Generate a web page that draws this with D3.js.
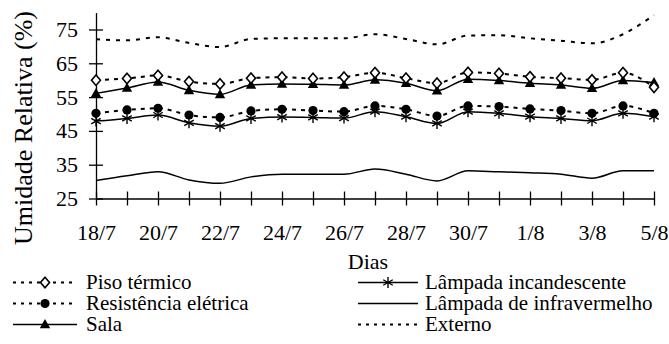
<!DOCTYPE html>
<html>
<head>
<meta charset="utf-8">
<script src="https://cdn.jsdelivr.net/npm/d3@7"></script>
<style>
  html, body { margin: 0; padding: 0; background: #fff; }
  svg { display: block; }
</style>
</head>
<body>
<svg id="chart" width="669" height="344"></svg>
<script>
// Days of observation (18 July to 5 August)
const days = ["18/7","19/7","20/7","21/7","22/7","23/7","24/7","25/7","26/7","27/7",
              "28/7","29/7","30/7","31/7","1/8","2/8","3/8","4/8","5/8"];
const labelledDays = ["18/7","20/7","22/7","24/7","26/7","28/7","30/7","1/8","3/8","5/8"];
const yTicks = [25, 35, 45, 55, 65, 75];

// Relative humidity (%) per treatment
const pisoTermico      = [60.0, 60.5, 61.4, 59.6, 58.9, 60.6, 60.9, 60.5, 60.9, 62.2, 60.6, 59.1, 62.3, 62.0, 61.0, 60.6, 60.1, 62.2, 57.9];
const resistencia      = [50.2, 51.2, 51.7, 49.7, 49.0, 50.9, 51.4, 51.0, 50.7, 52.4, 51.4, 49.4, 52.4, 52.2, 51.5, 51.0, 50.2, 52.4, 50.2];
const sala             = [56.1, 57.7, 59.5, 57.0, 55.8, 58.6, 58.9, 58.8, 58.6, 60.1, 59.1, 56.9, 60.3, 59.9, 59.1, 58.6, 57.6, 59.9, 59.3];
const incandescente    = [47.9, 48.7, 49.7, 47.4, 46.4, 48.7, 49.1, 49.0, 48.8, 50.7, 49.2, 47.2, 50.7, 50.2, 49.2, 48.7, 48.0, 50.2, 49.2];
const infravermelho    = [30.3, 31.7, 32.9, 30.5, 29.5, 31.4, 32.2, 32.2, 32.2, 33.7, 32.2, 30.2, 33.2, 32.9, 32.6, 32.2, 31.0, 33.2, 33.2];
const externo          = [72.1, 71.8, 72.7, 71.0, 69.8, 72.2, 72.4, 72.4, 72.4, 73.6, 72.2, 70.6, 73.2, 73.3, 72.4, 71.7, 70.9, 73.6, 79.3];

const series = [
  { name: "Externo",                  values: externo,       dash: "4,6", marker: null },
  { name: "Lâmpada de infravermelho", values: infravermelho, dash: null,  marker: null },
  { name: "Lâmpada incandescente",    values: incandescente, dash: null,  marker: "asterisk" },
  { name: "Resistência elétrica",     values: resistencia,   dash: "4,5", marker: "circle" },
  { name: "Piso térmico",             values: pisoTermico,   dash: "4,5", marker: "diamond" },
  { name: "Sala",                     values: sala,          dash: null,  marker: "triangle" }
];

const FONT = '"Liberation Serif"';
const svg = d3.select("#chart");

const x = d3.scalePoint().domain(days).range([96, 654]);
const y = d3.scaleLinear().domain([25, 80]).range([198.5, 12.6]);

// Y axis with ticks crossing the axis line
const yAxis = svg.append("g")
  .attr("transform", "translate(96,0)")
  .call(d3.axisLeft(y).tickValues(yTicks).tickSize(7).tickSizeOuter(0).tickPadding(11));
yAxis.selectAll(".tick line").attr("x1", 7);

// X axis: one tick per day, labels every two days
const xAxis = svg.append("g")
  .attr("transform", `translate(0,${y(25)})`)
  .call(d3.axisBottom(x).tickSize(7).tickSizeOuter(0).tickPadding(19)
    .tickFormat(d => labelledDays.includes(d) ? d : ""));
xAxis.selectAll(".tick line").attr("y1", -7);
xAxis.selectAll(".tick text").filter(d => !labelledDays.includes(d)).remove();

[yAxis, xAxis].forEach(g => {
  g.selectAll("text").style("font-family", FONT).style("font-size", "22px").attr("fill", "#000");
  g.selectAll("path, line").attr("stroke", "#000").attr("stroke-width", 1.3);
});

// Axis titles
svg.append("text")
  .attr("transform", "translate(32,128) rotate(-90)")
  .attr("text-anchor", "middle")
  .style("font-family", FONT)
  .style("font-size", "26px")
  .text("Umidade Relativa (%)");

svg.append("text")
  .attr("x", 368).attr("y", 269)
  .attr("text-anchor", "middle")
  .style("font-family", FONT)
  .style("font-size", "22px")
  .text("Dias");

// Lines
const line = d3.line()
  .x((d, i) => x(days[i]))
  .y(d => y(d))
  .curve(d3.curveMonotoneX);

series.forEach(s => {
  svg.append("path")
    .datum(s.values)
    .attr("fill", "none")
    .attr("stroke", "#000")
    .attr("stroke-width", s.dash ? 2 : 1.5)
    .attr("stroke-dasharray", s.dash)
    .attr("d", line);
});

// Marker shapes
function drawMarker(g, type, cx, cy) {
  if (type === "circle") {
    g.append("circle").attr("cx", cx).attr("cy", cy).attr("r", 4.6).attr("fill", "#000");
  } else if (type === "diamond") {
    g.append("path")
      .attr("d", `M${cx},${cy - 5.2}L${cx + 4.5},${cy}L${cx},${cy + 5.2}L${cx - 4.5},${cy}Z`)
      .attr("fill", "#fff").attr("stroke", "#000").attr("stroke-width", 1.6);
  } else if (type === "triangle") {
    g.append("path")
      .attr("d", `M${cx},${cy - 5.5}L${cx + 5.2},${cy + 3.8}L${cx - 5.2},${cy + 3.8}Z`)
      .attr("fill", "#000");
  } else if (type === "asterisk") {
    const r = 5.5;
    [90, 30, -30].forEach(a => {
      const rad = a * Math.PI / 180;
      g.append("line")
        .attr("x1", cx - r * Math.cos(rad)).attr("y1", cy - r * Math.sin(rad))
        .attr("x2", cx + r * Math.cos(rad)).attr("y2", cy + r * Math.sin(rad))
        .attr("stroke", "#000").attr("stroke-width", 1.4);
    });
  }
}

const markerOrder = ["asterisk", "circle", "triangle", "diamond"];
markerOrder.forEach(type => {
  const s = series.find(d => d.marker === type);
  const g = svg.append("g");
  s.values.forEach((v, i) => drawMarker(g, type, x(days[i]), y(v)));
});

// Legend
const legendItems = [
  { name: "Piso térmico",             col: 0, row: 0 },
  { name: "Resistência elétrica",     col: 0, row: 1 },
  { name: "Sala",                     col: 0, row: 2 },
  { name: "Lâmpada incandescente",    col: 1, row: 0 },
  { name: "Lâmpada de infravermelho", col: 1, row: 1 },
  { name: "Externo",                  col: 1, row: 2 }
];
const colX = [{ x0: 13, x1: 77, tx: 86 }, { x0: 358, x1: 418, tx: 425 }];
const rowBase = [289, 310, 331];

legendItems.forEach(item => {
  const s = series.find(d => d.name === item.name);
  const c = colX[item.col];
  const base = rowBase[item.row];
  const cy = base - 6.5;
  const g = svg.append("g");
  g.append("line")
    .attr("x1", c.x0).attr("x2", c.x1).attr("y1", cy).attr("y2", cy)
    .attr("stroke", "#000")
    .attr("stroke-width", s.dash ? 1.8 : 1.5)
    .attr("stroke-dasharray", s.dash ? "3,5" : null);
  if (s.marker) {
    drawMarker(g, s.marker, (c.x0 + c.x1) / 2, cy);
  }
  g.append("text")
    .attr("x", c.tx).attr("y", base)
    .style("font-family", FONT)
    .style("font-size", "21px")
    .text(item.name);
});
</script>
</body>
</html>
